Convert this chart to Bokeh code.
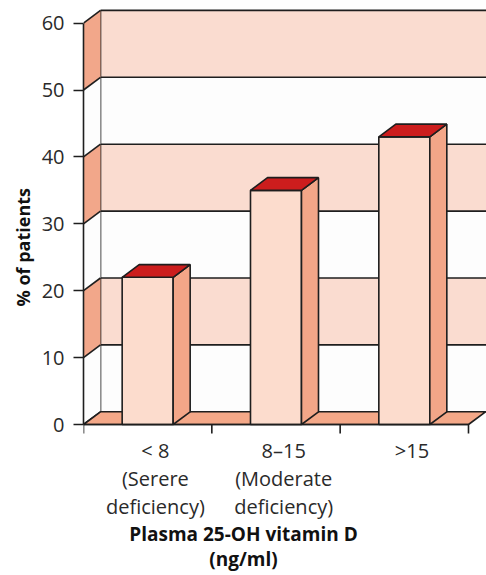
from bokeh.plotting import figure
from bokeh.models import FixedTicker, Label, Range1d, Title
from bokeh.embed import file_html
from bokeh.resources import INLINE

# ---- data ----
categories = ["< 8\n(Serere\ndeficiency)", "8–15\n(Moderate\ndeficiency)", ">15"]
percent_patients = [22, 35, 43]
y_ticks = [0, 10, 20, 30, 40, 50, 60]
x_title = "Plasma 25-OH vitamin D\n(ng/ml)"
y_title = "% of patients"

# ---- layout constants (pixels) ----
W, H = 486, 575
LEFT = 83
ZERO_PX = 424          # pixel row of value 0 from top
PX_X = 128.33          # pixels per category
PX_Y = 6.69            # pixels per percent
DX = 17 / PX_X         # 3-D depth offset in x (data units)
DY = 12.7 / PX_Y       # 3-D depth offset in y (data units)
HW = 25.5 / PX_X       # half bar width

x_end = (W - LEFT) / PX_X
y_end = ZERO_PX / PX_Y
y_start = -(H - ZERO_PX) / PX_Y

def py(px_row):
    """pixel row (from top) -> data y"""
    return (ZERO_PX - px_row) / PX_Y

def px(px_col):
    return (px_col - LEFT) / PX_X

LINE = "#1e1e1e"
LW = 1.6
WALL_LIGHT = "#fadcd0"
WALL_WHITE = "#fdfdfd"
SIDE_DARK = "#f2a78a"
FLOOR = "#f4a888"
BAR_FRONT = "#fcdccd"
BAR_SIDE = "#f3a688"
BAR_TOP = "#cc1d1d"
FONT = "Open Sans"

p = figure(width=W, height=H, output_backend="svg", toolbar_location=None,
           x_range=Range1d(0, x_end), y_range=Range1d(y_start, y_end),
           x_axis_location=None, min_border_left=LEFT, min_border_right=0,
           min_border_top=0, min_border_bottom=0)
p.outline_line_color = None
p.grid.visible = False
p.background_fill_color = "white"
p.border_fill_color = "white"

n = len(categories)
top_v = y_ticks[-1]
step = y_ticks[1] - y_ticks[0]

# back wall bands
bands = y_ticks[:-1]
p.quad(left=DX, right=x_end + 1, bottom=[v + DY for v in bands],
       top=[v + step + DY for v in bands],
       fill_color=[WALL_WHITE if (v // step) % 2 == 0 else WALL_LIGHT for v in bands],
       line_color=None)
p.multi_line(xs=[[DX, x_end + 1] for v in y_ticks], ys=[[v + DY, v + DY] for v in y_ticks],
             line_color=LINE, line_width=LW)
p.segment(x0=[DX], y0=[DY], x1=[DX], y1=[top_v + DY], line_color=LINE, line_width=LW)

# left side wall
p.patches(xs=[[0, DX, DX, 0] for v in bands],
          ys=[[v, v + DY, v + step + DY, v + step] for v in bands],
          fill_color=[WALL_WHITE if (v // step) % 2 == 0 else SIDE_DARK for v in bands],
          line_color=None)
p.multi_line(xs=[[0, DX] for v in y_ticks], ys=[[v, v + DY] for v in y_ticks],
             line_color=LINE, line_width=LW)

# floor
p.patch(x=[0, n, n + DX, DX], y=[0, 0, DY, DY], fill_color=FLOOR,
        line_color=LINE, line_width=LW)

# bars
centers = [i + 0.5 for i in range(n)]
p.quad(left=[c - HW for c in centers], right=[c + HW for c in centers],
       bottom=0, top=percent_patients, fill_color=BAR_FRONT,
       line_color=LINE, line_width=LW)
p.patches(xs=[[c + HW, c + HW + DX, c + HW + DX, c + HW] for c in centers],
          ys=[[0, DY, v + DY, v] for v in percent_patients],
          fill_color=BAR_SIDE, line_color=LINE, line_width=LW)
p.patches(xs=[[c - HW, c + HW, c + HW + DX, c - HW + DX] for c in centers],
          ys=[[v, v, v + DY, v + DY] for v in percent_patients],
          fill_color=BAR_TOP, line_color=LINE, line_width=LW)

# front x line and ticks
p.segment(x0=[0], y0=[0], x1=[n], y1=[0], line_color=LINE, line_width=LW)
p.segment(x0=list(range(n + 1)), y0=0, x1=list(range(n + 1)), y1=-9 / PX_Y,
          line_color=LINE, line_width=LW)

# y axis
ax = p.yaxis[0]
ax.ticker = FixedTicker(ticks=y_ticks)
ax.bounds = (0, top_v)
ax.axis_line_color = LINE
ax.axis_line_width = LW
ax.major_tick_line_color = LINE
ax.major_tick_line_width = LW
ax.major_tick_out = 10
ax.major_tick_in = 0
ax.minor_tick_line_color = None
ax.major_label_standoff = 9
ax.major_label_text_font = FONT
ax.major_label_text_font_size = "20px"
ax.major_label_text_color = "#2a2a2a"

# category labels
for c, lab in zip(centers, categories):
    p.add_layout(Label(x=c + 0.06, y=py(436), text=lab,
                       text_align="center", text_baseline="top",
                       text_font=FONT, text_font_size="20px",
                       text_color="#2a2a2a", text_line_height=1.05))

# x title
p.add_layout(Label(x=px(243), y=py(520), text=x_title,
                   text_align="center", text_baseline="top",
                   text_font=FONT, text_font_size="19px", text_font_style="bold",
                   text_color="#111111", text_line_height=0.97))

# y title (left panel)
p.add_layout(Title(text=y_title, align="left", offset=H - 306,
                   text_font=FONT, text_font_size="18px", text_font_style="bold",
                   text_color="#111111", standoff=8), "left")

open("out.html", "w").write(file_html(p, INLINE))
